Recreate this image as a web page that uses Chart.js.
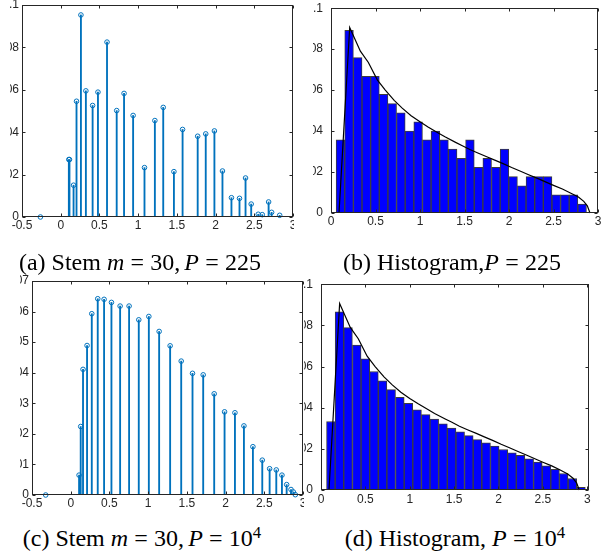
<!DOCTYPE html>
<html><head><meta charset="utf-8">
<script src="https://cdn.jsdelivr.net/npm/chart.js@4/dist/chart.umd.min.js"></script>
<style>
html,body{margin:0;padding:0;background:#fff;}
body{width:606px;height:558px;position:relative;overflow:hidden;}
.clip{position:absolute;overflow:hidden;}
.wrap{position:absolute;}
.cap{position:absolute;width:300px;text-align:center;font-family:'Liberation Serif','Times New Roman',serif;font-size:24px;line-height:28px;color:#000;white-space:nowrap;}
.cap sup{font-size:0.7em;line-height:0;vertical-align:0.5em;}
.cap .rel{margin:0 0.26em;}
.cap .th{margin-left:0.17em;}
</style></head><body>
<div class="clip" id="clipA"><div class="wrap" id="wrapA"><canvas id="cA"></canvas></div></div>
<div class="clip" id="clipB"><div class="wrap" id="wrapB"><canvas id="cB"></canvas></div></div>
<div class="clip" id="clipC"><div class="wrap" id="wrapC"><canvas id="cC"></canvas></div></div>
<div class="clip" id="clipD"><div class="wrap" id="wrapD"><canvas id="cD"></canvas></div></div>
<div class="cap" style="left:-10px;top:248px">(a) Stem <i>m</i><span class="rel">=</span>30,<span class="th"></span><i>P</i><span class="rel">=</span>225</div>
<div class="cap" style="left:302px;top:248px">(b) Histogram,<i>P</i><span class="rel">=</span>225</div>
<div class="cap" style="left:-8px;top:524px">(c) Stem <i>m</i><span class="rel">=</span>30,<span class="th"></span><i>P</i><span class="rel">=</span>10<sup>4</sup></div>
<div class="cap" style="left:305px;top:524px">(d) Histogram, <i>P</i><span class="rel">=</span>10<sup>4</sup></div>
<script>
// ---------- data ----------
const stemA_x = [-0.262, 0.105, 0.113, 0.166, 0.204, 0.261, 0.325, 0.412, 0.481, 0.598, 0.723, 0.818, 0.935, 1.082, 1.216, 1.324, 1.462, 1.574, 1.769, 1.873, 1.985, 2.089, 2.205, 2.309, 2.387, 2.460, 2.551, 2.603, 2.685, 2.724, 2.828];
const stemA_y = [0, 0.0271, 0.0271, 0.0150, 0.0546, 0.0953, 0.0595, 0.0526, 0.0589, 0.0825, 0.0502, 0.0583, 0.0479, 0.0233, 0.0455, 0.0517, 0.0214, 0.0413, 0.0381, 0.0392, 0.0406, 0.0217, 0.0091, 0.0088, 0.0184, 0.0061, 0.0013, 0.0011, 0.0071, 0.0022, 0.0008];

const stemC_x = [-0.323, 0.108, 0.129, 0.159, 0.211, 0.272, 0.349, 0.431, 0.526, 0.638, 0.754, 0.879, 1.009, 1.142, 1.284, 1.427, 1.573, 1.711, 1.853, 1.987, 2.121, 2.237, 2.353, 2.474, 2.569, 2.655, 2.728, 2.789, 2.845, 2.875, 2.901];
const stemC_y = [0, 0.0065, 0.0224, 0.0411, 0.0489, 0.0593, 0.0642, 0.0640, 0.0630, 0.0618, 0.0618, 0.0573, 0.0584, 0.0535, 0.0488, 0.0438, 0.0398, 0.0393, 0.0331, 0.0272, 0.0269, 0.0226, 0.0158, 0.0114, 0.0086, 0.0082, 0.0065, 0.0034, 0.0018, 0.0010, 0.0001];

const histB_x = [0.106, 0.203, 0.300, 0.397, 0.494, 0.591, 0.688, 0.785, 0.882, 0.979, 1.076, 1.173, 1.270, 1.367, 1.464, 1.561, 1.658, 1.755, 1.852, 1.949, 2.046, 2.143, 2.240, 2.337, 2.434, 2.531, 2.628, 2.725, 2.822];
const histB_y = [0.0357, 0.0892, 0.0759, 0.0667, 0.0667, 0.0579, 0.0534, 0.0489, 0.0400, 0.0445, 0.0357, 0.0400, 0.0357, 0.0312, 0.0267, 0.0357, 0.0223, 0.0267, 0.0223, 0.0312, 0.0178, 0.0133, 0.0178, 0.0178, 0.0178, 0.0089, 0.0089, 0.0089, 0.0044];

const histD_x = [0.111, 0.208, 0.305, 0.403, 0.500, 0.597, 0.694, 0.791, 0.889, 0.986, 1.083, 1.180, 1.277, 1.375, 1.472, 1.569, 1.666, 1.763, 1.861, 1.958, 2.055, 2.152, 2.249, 2.347, 2.444, 2.541, 2.638, 2.735, 2.833, 2.930];
const histD_y = [0.0333, 0.0866, 0.0789, 0.0704, 0.0637, 0.0576, 0.0530, 0.0488, 0.0450, 0.0421, 0.0390, 0.0366, 0.0344, 0.0322, 0.0301, 0.0283, 0.0264, 0.0245, 0.0229, 0.0213, 0.0197, 0.0181, 0.0168, 0.0152, 0.0136, 0.0117, 0.0101, 0.0080, 0.0056, 0.0013];

const curve_x = [0.09, 0.21, 0.33, 0.42, 0.52, 0.61, 0.71, 0.80, 0.90, 1.00, 1.09, 1.20, 1.28, 1.40, 1.47, 1.56, 1.65, 1.75, 1.84, 1.94, 2.03, 2.13, 2.22, 2.32, 2.41, 2.50, 2.60, 2.69, 2.78, 2.84, 2.88, 2.91];
const curve_y = [0, 0.0906, 0.0790, 0.0735, 0.0650, 0.0600, 0.0550, 0.0512, 0.0475, 0.0445, 0.0420, 0.0392, 0.0372, 0.0345, 0.0330, 0.0310, 0.0293, 0.0275, 0.0258, 0.0240, 0.0222, 0.0204, 0.0187, 0.0169, 0.0152, 0.0135, 0.0117, 0.0098, 0.0078, 0.0057, 0.0035, 0];

const xTicksStem = [-0.5, 0, 0.5, 1, 1.5, 2, 2.5, 3];
const xLabelsStem = ['-0.5', '0', '0.5', '1', '1.5', '2', '2.5', '3'];
const xTicksHist = [0, 0.5, 1, 1.5, 2, 2.5, 3];
const xLabelsHist = ['0', '0.5', '1', '1.5', '2', '2.5', '3'];
const yTicks01 = [0, 0.02, 0.04, 0.06, 0.08, 0.1];
const yLabels01 = ['0', '0.02', '0.04', '0.06', '0.08', '0.1'];
const yTicks007 = [0, 0.01, 0.02, 0.03, 0.04, 0.05, 0.06, 0.07];
const yLabels007 = ['0', '0.01', '0.02', '0.03', '0.04', '0.05', '0.06', '0.07'];

// ---------- layout ----------
const YW = 50, PADT = 12, PADR = 12, XH = 30;
const AX = '#262626';
const STEM = '#0072BD';

const boxPlugin = {
  id: 'box',
  afterDatasetsDraw(chart) {
    const {ctx, chartArea: a, scales: {x, y}} = chart;
    ctx.save();
    ctx.strokeStyle = AX; ctx.lineWidth = 1;
    const L = Math.round(a.left) + 0.5, R = Math.round(a.right) - 0.5;
    const T = Math.round(a.top) + 0.5, B = Math.round(a.bottom) - 0.5;
    ctx.strokeRect(L, T, R - L, B - T);
    const tl = 3;
    ctx.beginPath();
    x.ticks.forEach(t => {
      const px = Math.round(x.getPixelForValue(t.value)) + 0.5;
      ctx.moveTo(px, B); ctx.lineTo(px, B - tl);
      ctx.moveTo(px, T); ctx.lineTo(px, T + tl);
    });
    y.ticks.forEach(t => {
      const py = Math.round(y.getPixelForValue(t.value)) + 0.5;
      ctx.moveTo(L, py); ctx.lineTo(L + tl, py);
      ctx.moveTo(R, py); ctx.lineTo(R - tl, py);
    });
    ctx.stroke();
    ctx.restore();
  }
};

function place(id, plot, clip) {
  const clipEl = document.getElementById('clip' + id);
  clipEl.style.left = clip.l + 'px'; clipEl.style.top = clip.t + 'px';
  clipEl.style.width = (clip.r - clip.l) + 'px'; clipEl.style.height = (clip.b - clip.t) + 'px';
  const wl = plot.l - YW, wt = plot.t - PADT;
  const ww = (plot.r - plot.l) + YW + PADR, wh = (plot.b - plot.t) + PADT + XH;
  const wrap = document.getElementById('wrap' + id);
  wrap.style.left = (wl - clip.l) + 'px'; wrap.style.top = (wt - clip.t) + 'px';
  wrap.style.width = ww + 'px'; wrap.style.height = wh + 'px';
  const cv = document.getElementById('c' + id);
  cv.width = ww; cv.height = wh;
  cv.style.width = ww + 'px'; cv.style.height = wh + 'px';
  return cv;
}

function scales(xmin, xmax, xt, xl, ymax, yt, yl, xpad, ypad) {
  const font = {family: "'Liberation Sans', Arial, sans-serif", size: 12, lineHeight: 1.2};
  return {
    x: {
      type: 'linear', min: xmin, max: xmax, offset: false,
      grid: {display: false, drawTicks: false, offset: false},
      border: {display: false},
      afterBuildTicks: s => { s.ticks = xt.map(v => ({value: v})); },
      afterFit: s => { s.height = XH; },
      ticks: {color: AX, font, padding: xpad, maxRotation: 0, autoSkip: false,
        callback: (v, i) => xl[i]}
    },
    y: {
      type: 'linear', min: 0, max: ymax,
      grid: {display: false, drawTicks: false},
      border: {display: false},
      afterBuildTicks: s => { s.ticks = yt.map(v => ({value: v})); },
      afterFit: s => { s.width = YW; },
      ticks: {color: AX, font, padding: ypad, autoSkip: false,
        callback: (v, i) => yl[i]}
    }
  };
}

function baseOpts(sc) {
  return {
    responsive: false, animation: false, devicePixelRatio: 1,
    layout: {padding: {top: PADT, right: PADR, left: 0, bottom: 0}},
    plugins: {legend: {display: false}, tooltip: {enabled: false}},
    scales: sc
  };
}

function stemChart(id, plot, clip, xs, ys, ymax, yt, yl, xpad, ypad) {
  const cv = place(id, plot, clip);
  const pts = xs.map((x, i) => ({x, y: ys[i]}));
  new Chart(cv, {
    data: {datasets: [
      {type: 'bar', data: pts, backgroundColor: STEM, barThickness: 1.2, order: 2},
      {type: 'scatter', data: pts, pointStyle: 'circle', pointRadius: 2.3,
       pointBorderWidth: 1, borderColor: STEM, backgroundColor: 'rgba(0,0,0,0)', clip: false, order: 1}
    ]},
    options: baseOpts(scales(-0.5, 3, xTicksStem, xLabelsStem, ymax, yt, yl, xpad, ypad)),
    plugins: [boxPlugin]
  });
}

function histChart(id, plot, clip, xs, ys, xmax, xpad, ypad) {
  const cv = place(id, plot, clip);
  new Chart(cv, {
    data: {datasets: [
      {type: 'bar', data: xs.map((x, i) => ({x, y: ys[i]})), backgroundColor: '#0000FF',
       borderColor: '#3c3c3c', borderWidth: 1, borderSkipped: false,
       barPercentage: 1, categoryPercentage: 1, order: 2},
      {type: 'line', data: curve_x.map((x, i) => ({x, y: curve_y[i]})), borderColor: '#000',
       borderWidth: 1.2, pointRadius: 0, tension: 0, fill: false, clip: false, order: 1}
    ]},
    options: baseOpts(scales(0, xmax, xTicksHist, xLabelsHist, 0.1, yTicks01, yLabels01, xpad, ypad)),
    plugins: [boxPlugin]
  });
}

stemChart('A', {l: 22, t: 5, r: 293, b: 217}, {l: 10, t: 0, r: 294, b: 240},
  stemA_x, stemA_y, 0.1, yTicks01, yLabels01, 1, 3);
histChart('B', {l: 331, t: 5, r: 598, b: 213}, {l: 313, t: 0, r: 606, b: 240},
  histB_x, histB_y, 3, 1, 8);
stemChart('C', {l: 32, t: 281, r: 303, b: 495}, {l: 20, t: 270, r: 304, b: 520},
  stemC_x, stemC_y, 0.07, yTicks007, yLabels007, 1, 3);
histChart('D', {l: 321, t: 281, r: 589, b: 490}, {l: 304, t: 270, r: 606, b: 520},
  histD_x, histD_y, 3.02, 2, 8);
</script>
</body></html>
